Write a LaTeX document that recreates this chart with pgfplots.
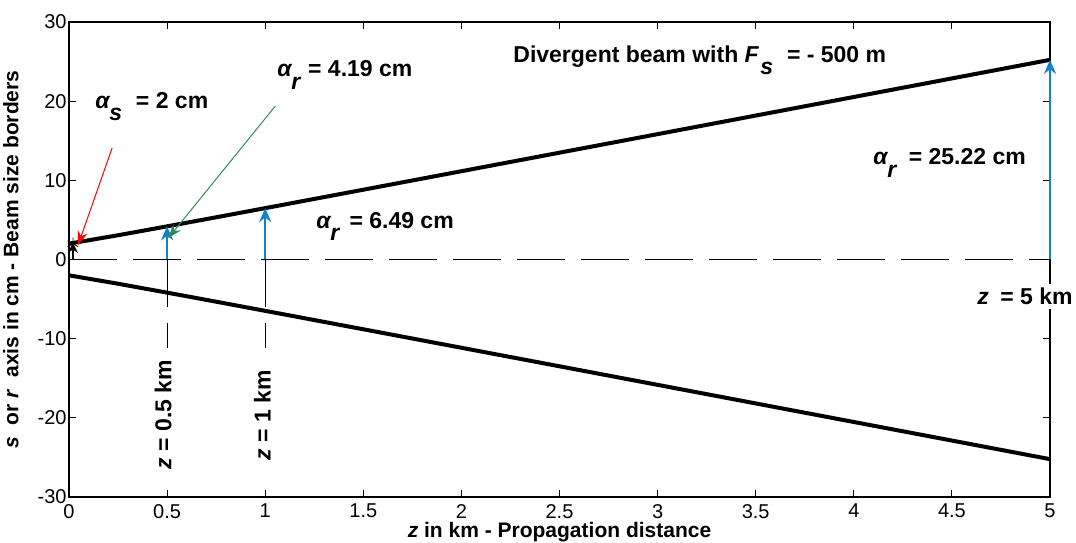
\documentclass[border=0pt]{standalone}
\usepackage{fontspec}
\setmainfont{Liberation Sans}
\usepackage{pgfplots}
\pgfplotsset{compat=1.18}
\usetikzlibrary{arrows.meta}
\definecolor{arrblue}{RGB}{20,130,200}
\definecolor{arrgreen}{RGB}{46,139,87}

% alpha with lowered subscript, MATLAB style
\newcommand\asub[1]{\textit{α}\kern-0.05em\raisebox{-1ex}{\textit{#1}}}

\begin{document}
\begin{tikzpicture}
\begin{axis}[
  scale only axis, width=490.5pt, height=237.5pt,
  xmin=0, xmax=5, ymin=-30, ymax=30,
  xtick={0,0.5,...,5}, ytick={-30,-20,...,30},
  tick align=inside, major tick length=3.5pt,
  axis line style={line width=0.8pt},
  tick style={black, line width=0.5pt},
  /pgf/number format/assume math mode=true,
  tick label style={font=\fontsize{10}{12}\selectfont},
  yticklabel style={inner xsep=1pt},
  label style={font=\bfseries\fontsize{10.5}{12}\selectfont},
  xlabel={\textit{z} in km - Propagation distance},
  ylabel={\textit{s}\ \ or \textit{r}\ \ axis in cm - Beam size borders},
  xlabel style={yshift=5pt},
  ylabel style={yshift=5pt},
  clip=false,
]
  % beam borders
  \addplot[black, line width=2pt] coordinates {
    (0,2)(0.25,3.063)(0.5,4.186)(0.75,5.331)(1,6.487)(1.5,8.814)(2,11.150)
    (2.5,13.491)(3,15.835)(3.5,18.180)(4,20.526)(4.5,22.872)(5,25.220)
  };
  \addplot[black, line width=2pt] coordinates {
    (0,-2)(0.25,-3.063)(0.5,-4.186)(0.75,-5.331)(1,-6.487)(1.5,-8.814)(2,-11.150)
    (2.5,-13.491)(3,-15.835)(3.5,-18.180)(4,-20.526)(4.5,-22.872)(5,-25.220)
  };
  % propagation axis and markers
  \addplot[black, line width=0.9pt, dash pattern=on 24pt off 8pt] coordinates {(0,0)(5,0)};
  \addplot[black, line width=0.6pt, dash pattern=on 24pt off 8pt] coordinates {(0.5,0)(0.5,-11.2)};
  \addplot[black, line width=0.6pt, dash pattern=on 24pt off 8pt] coordinates {(1,0)(1,-11.2)};
  % radius arrows
  \addplot[arrblue, line width=1.2pt, -{Stealth[length=7pt,width=6pt]}] coordinates {(0.5,0)(0.5,4.19)};
  \addplot[arrblue, line width=1.2pt, -{Stealth[length=7pt,width=6pt]}] coordinates {(1,0)(1,6.49)};
  \addplot[arrblue, line width=1.2pt, -{Stealth[length=7pt,width=6pt]}] coordinates {(5,0)(5,25.22)};
  \addplot[black, line width=0.8pt, -{Stealth[length=5pt,width=5pt]}] coordinates {(0.02,0)(0.02,2.1)};
  \addplot[black, mark=asterisk, mark size=3pt, only marks] coordinates {(0.02,2)};

  \draw[red, line width=0.5pt, -{Stealth[length=7pt,width=5pt]}] (axis cs:0.22,14.1) -- (axis cs:0.046,1.8);
  \draw[arrgreen, line width=0.5pt, -{Stealth[length=7pt,width=5pt]}] (axis cs:1.052,19.4) -- (axis cs:0.506,2.7);

  \begin{scope}[every node/.style={font=\bfseries\fontsize{11.5}{13}\selectfont, inner sep=0pt}]
    \node[anchor=west] at (axis cs:0.133,19.3) {\asub{s}\hspace{0.6em}= 2 cm};
    \node[anchor=west] at (axis cs:1.06,23.3) {\asub{r}\hspace{0.3em}= 4.19 cm};
    \node[anchor=west] at (axis cs:2.263,25.2) {Divergent beam with \textit{F}\kern0.05em\raisebox{-1ex}{\textit{s}}\hspace{0.6em}= - 500 m};
    \node[anchor=west] at (axis cs:1.259,4.2) {\asub{r}\hspace{0.4em}= 6.49 cm};
    \node[anchor=west] at (axis cs:4.098,12.2) {\asub{r}\hspace{0.5em}= 25.22 cm};
    \node[anchor=west, fill=white, inner ysep=2pt] at (axis cs:4.628,-4.7) {\textit{z}\hspace{0.5em}= 5 km};
    \node[rotate=90] at (axis cs:0.48,-19.6) {\textit{z} = 0.5 km};
    \node[rotate=90] at (axis cs:0.985,-19.7) {\textit{z} = 1 km};
  \end{scope}
\end{axis}
\pgfresetboundingbox
\path[use as bounding box] ([xshift=-34.5pt,yshift=-23pt]current axis.south west)
  rectangle ([xshift=13pt,yshift=11pt]current axis.north east);
\end{tikzpicture}
\end{document}
